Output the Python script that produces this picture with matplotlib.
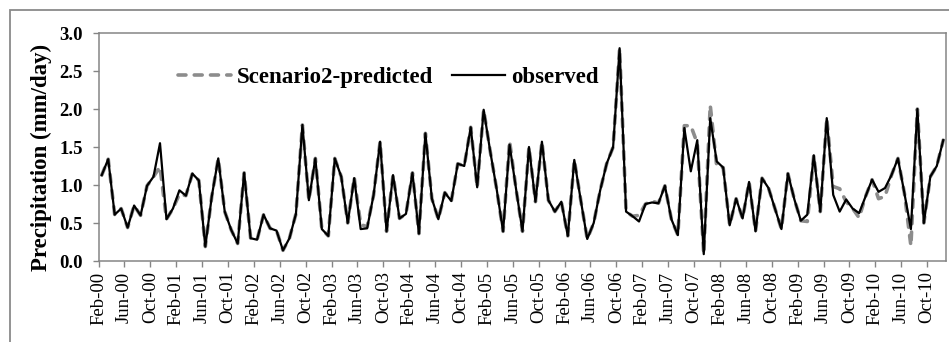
import numpy as np
import matplotlib
matplotlib.use("Agg")
import matplotlib.pyplot as plt
from matplotlib.patches import Rectangle

plt.rcParams['font.family'] = ['Liberation Serif', 'DejaVu Serif']

# monthly precipitation (mm/day), Feb-00 .. Dec-10
observed = [
    1.13, 1.34, 0.61, 0.69, 0.44, 0.73, 0.60, 0.99, 1.11, 1.55, 0.55,        # 2000
    0.69, 0.93, 0.86, 1.15, 1.06, 0.19, 0.85, 1.35, 0.65, 0.41, 0.23, 1.16,  # 2001
    0.30, 0.28, 0.61, 0.43, 0.40, 0.14, 0.30, 0.62, 1.79, 0.80, 1.35, 0.42,  # 2002
    0.33, 1.35, 1.11, 0.50, 1.09, 0.42, 0.43, 0.87, 1.57, 0.39, 1.13, 0.56,  # 2003
    0.62, 1.16, 0.36, 1.68, 0.82, 0.55, 0.90, 0.79, 1.28, 1.25, 1.76, 0.97,  # 2004
    1.99, 1.45, 0.95, 0.39, 1.53, 0.95, 0.39, 1.50, 0.78, 1.57, 0.80, 0.65,  # 2005
    0.78, 0.33, 1.33, 0.80, 0.29, 0.50, 0.93, 1.28, 1.50, 2.80, 0.65, 0.59,  # 2006
    0.52, 0.75, 0.77, 0.76, 0.99, 0.55, 0.34, 1.75, 1.18, 1.59, 0.09, 1.88,  # 2007
    1.31, 1.23, 0.47, 0.82, 0.56, 1.04, 0.39, 1.09, 0.96, 0.69, 0.42, 1.15,  # 2008
    0.81, 0.53, 0.61, 1.39, 0.65, 1.88, 0.87, 0.65, 0.81, 0.69, 0.63, 0.85,  # 2009
    1.07, 0.91, 0.96, 1.13, 1.35, 0.89, 0.42, 2.00, 0.50, 1.11, 1.25, 1.59,  # 2010
]

predicted = [
    1.13, 1.34, 0.61, 0.69, 0.44, 0.73, 0.60, 0.99, 1.11, 1.24, 0.55,
    0.69, 0.88, 0.86, 1.15, 1.06, 0.19, 0.85, 1.35, 0.65, 0.41, 0.23, 1.16,
    0.30, 0.28, 0.61, 0.43, 0.40, 0.14, 0.30, 0.62, 1.79, 0.80, 1.35, 0.42,
    0.33, 1.35, 1.11, 0.50, 1.10, 0.48, 0.45, 0.87, 1.57, 0.39, 1.13, 0.56,
    0.62, 1.16, 0.36, 1.68, 0.82, 0.55, 0.90, 0.79, 1.28, 1.25, 1.76, 0.97,
    1.99, 1.45, 0.95, 0.39, 1.58, 0.95, 0.39, 1.50, 0.78, 1.57, 0.80, 0.65,
    0.78, 0.33, 1.33, 0.80, 0.29, 0.50, 0.93, 1.28, 1.50, 2.80, 0.65, 0.59,
    0.60, 0.75, 0.79, 0.76, 0.99, 0.55, 0.34, 1.78, 1.78, 1.55, 0.09, 2.05,
    1.25, 1.23, 0.47, 0.82, 0.56, 1.04, 0.39, 1.09, 0.96, 0.69, 0.42, 1.15,
    0.81, 0.53, 0.52, 1.39, 0.65, 1.88, 0.98, 0.95, 0.78, 0.69, 0.57, 0.85,
    1.07, 0.82, 0.85, 1.13, 1.35, 0.89, 0.20, 2.00, 0.50, 1.11, 1.25, 1.59,
]

tick_labels = [
    "Feb-00", "Jun-00", "Oct-00", "Feb-01", "Jun-01", "Oct-01",
    "Feb-02", "Jun-02", "Oct-02", "Feb-03", "Jun-03", "Oct-03",
    "Feb-04", "Jun-04", "Oct-04", "Feb-05", "Jun-05", "Oct-05",
    "Feb-06", "Jun-06", "Oct-06", "Feb-07", "Jun-07", "Oct-07",
    "Feb-08", "Jun-08", "Oct-08", "Feb-09", "Jun-09", "Oct-09",
    "Feb-10", "Jun-10", "Oct-10",
]
y_ticks = [0.0, 0.5, 1.0, 1.5, 2.0, 2.5, 3.0]

W, H = 949, 342
fig = plt.figure(figsize=(W / 100, H / 100), dpi=100)
ax = fig.add_axes([98.5 / W, (H - 261) / H, 848 / W, 228 / H])

# outer chart border (only left and top edges fall inside the picture)
fig.patches.append(Rectangle((10 / W, -0.2), 1.5, (H - 10) / H + 0.2,
                             transform=fig.transFigure, fill=False,
                             edgecolor='#8a8a8a', lw=1.3))

n = len(observed)
x = np.arange(n) + 0.5

ax.plot(x, predicted, color='#8c8c8c', lw=2.6, dashes=(2.2, 2.3),
        dash_capstyle='round', label='Scenario2-predicted')
ax.plot(x, observed, color='black', lw=1.6, label='observed')

ax.set_xlim(0, n)
ax.set_ylim(0, 3)
ax.set_yticks(y_ticks)
ax.set_yticklabels(["%.1f" % v for v in y_ticks], fontsize=13.5, fontweight='bold')
ax.set_xticks(np.arange(len(tick_labels)) * 4)
ax.set_xticklabels(tick_labels, rotation=90, fontsize=13.5)

for s in ax.spines.values():
    s.set_color('#858585')
    s.set_linewidth(1.1)
ax.tick_params(axis='both', direction='out', color='#858585', length=4.5, width=1.0)
ax.tick_params(axis='y', pad=7)
ax.tick_params(axis='x', pad=3)

fig.text(41 / W, 1 - 157 / H, 'Precipitation (mm/day)', rotation=90,
         ha='center', va='center', fontsize=16.5, fontweight='bold')

ax.legend(loc='center left', bbox_to_anchor=(0.094, 0.807), ncol=2, frameon=False,
          prop={'size': 16.5, 'weight': 'bold'}, handlelength=2.3,
          handletextpad=0.25, columnspacing=0.85, borderpad=0, borderaxespad=0)

fig.savefig('out.png', dpi=100)
